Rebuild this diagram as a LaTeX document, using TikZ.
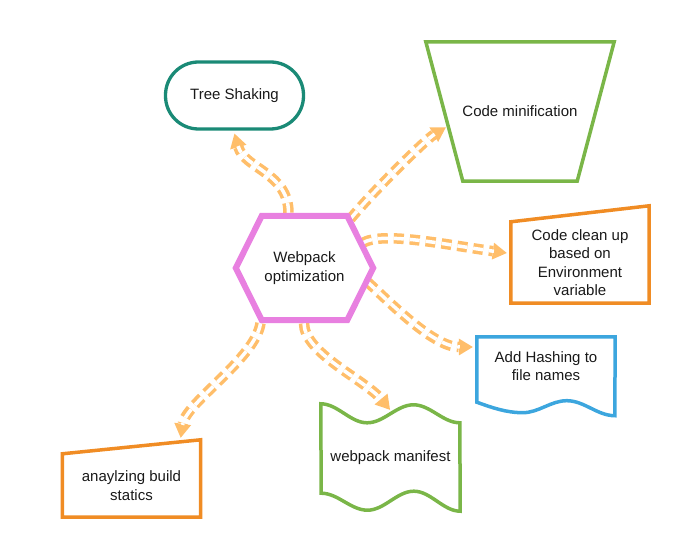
\documentclass[tikz,border=0pt]{standalone}
\usepackage{fontspec}
\setmainfont{Liberation Sans}
\usetikzlibrary{arrows.meta}
\definecolor{hexpink}{RGB}{232,128,224}
\definecolor{linkorange}{RGB}{255,190,106}
\definecolor{leafgreen}{RGB}{122,182,72}
\definecolor{boxorange}{RGB}{240,140,36}
\definecolor{docblue}{RGB}{60,166,222}
\definecolor{pillteal}{RGB}{26,138,118}
\begin{document}
\begin{tikzpicture}[x=1pt,y=-1pt,
    txt/.style={inner sep=0pt,align=center,text=black!90,font=\fontsize{15}{18.5}\selectfont},
    link/.style={draw=linkorange,line width=10.5pt,dash pattern=on 10pt off 6pt,
        -{Triangle[length=14pt,width=17pt,line width=0pt]},
        postaction={draw=white,line width=3.5pt,-,shorten >=13pt}},
    rim/.style={line width=3.5pt}]
\useasboundingbox (0,0) rectangle (686,545);
\node[txt,minimum width=138pt,minimum height=67pt,draw=pillteal,line width=3.3pt,rounded corners=33pt] (tree) at (234.5,95.5) {Tree Shaking};
\node[txt,minimum width=188pt,minimum height=139pt] (mini) at (520,111.5) {Code minification};
\node[txt,minimum width=137pt,minimum height=104pt] (opt) at (304.5,268) {Webpack\\optimization};
\node[txt,minimum width=138pt,minimum height=81pt] (clean) at (580,262.5) {Code clean up\\based on\\Environment\\variable};
\node[txt,minimum width=138pt,minimum height=65pt,text depth=7pt] (hash) at (546,369.5) {Add Hashing to\\file names};
\node[txt,minimum width=139pt,minimum height=89pt] (mani) at (390.5,457.5) {webpack manifest};
\node[txt,minimum width=138pt,minimum height=63pt] (stat) at (131.5,485.5) {anaylzing build\\statics};

\draw[link] ([shift={(-16,-3)}]opt.north) .. controls +(0,-40) and +(10,35) .. ([shift={(0,3)}]tree.south);
\draw[link] ([shift={(46,3)}]opt.north) .. controls +(25,-30) and +(-20,12) .. ([shift={(20,16)}]mini.west);
\draw[link] ([shift={(58,-25)}]opt.center) .. controls +(20,-12) and +(-60,-8) .. ([shift={(-4,-9.5)}]clean.west);
\draw[link] ([shift={(63,14)}]opt.center) .. controls +(20,18) and +(-40,0) .. ([shift={(-4,-22.5)}]hash.west);
\draw[link] ([shift={(-0.5,3)}]opt.south) .. controls +(0,30) and +(-25,-30) .. ([shift={(-0.5,-3)}]mani.north);
\draw[link] ([shift={(-44,3)}]opt.south) .. controls +(-5,35) and +(5,-35) .. ([shift={(-20,-16)}]stat.north east);

\draw[rim,draw=leafgreen] (mini.north west) -- (mini.north east) -- ([shift={(-37,0)}]mini.south east) -- ([shift={(37,0)}]mini.south west) -- cycle;
\draw[rim,draw=hexpink,line width=6pt] (opt.west) -- ([shift={(26,0)}]opt.north west) -- ([shift={(-26,0)}]opt.north east) -- (opt.east) -- ([shift={(-26,0)}]opt.south east) -- ([shift={(26,0)}]opt.south west) -- cycle;
\draw[rim,draw=boxorange] (clean.south west) -- (clean.north west) -- ([shift={(0,-16)}]clean.north east) -- (clean.south east) -- cycle;
\draw[rim,draw=docblue] (hash.south west) sin ++(46,10.5) cos ++(22,-6) sin ++(22,-6) cos ++(24,7.5) sin ++(24,7.5) -- (hash.north east) -- (hash.north west) -- cycle;
\draw[rim,draw=leafgreen] ([shift={(0,-9)}]mani.north west) cos ++(23.17,9.5) sin ++(23.17,9.5) cos ++(23.17,-9) sin ++(23.17,-9) cos ++(23.17,9) sin ++(23.17,9)
    -- ([shift={(0,9)}]mani.south east) cos ++(-23.17,-10) sin ++(-23.17,-10) cos ++(-23.17,9.5) sin ++(-23.17,9.5) cos ++(-23.17,-8.5) sin ++(-23.17,-8.5) -- cycle;
\draw[rim,draw=boxorange] (stat.south west) -- (stat.north west) -- ([shift={(0,-14)}]stat.north east) -- (stat.south east) -- cycle;
\end{tikzpicture}
\end{document}
